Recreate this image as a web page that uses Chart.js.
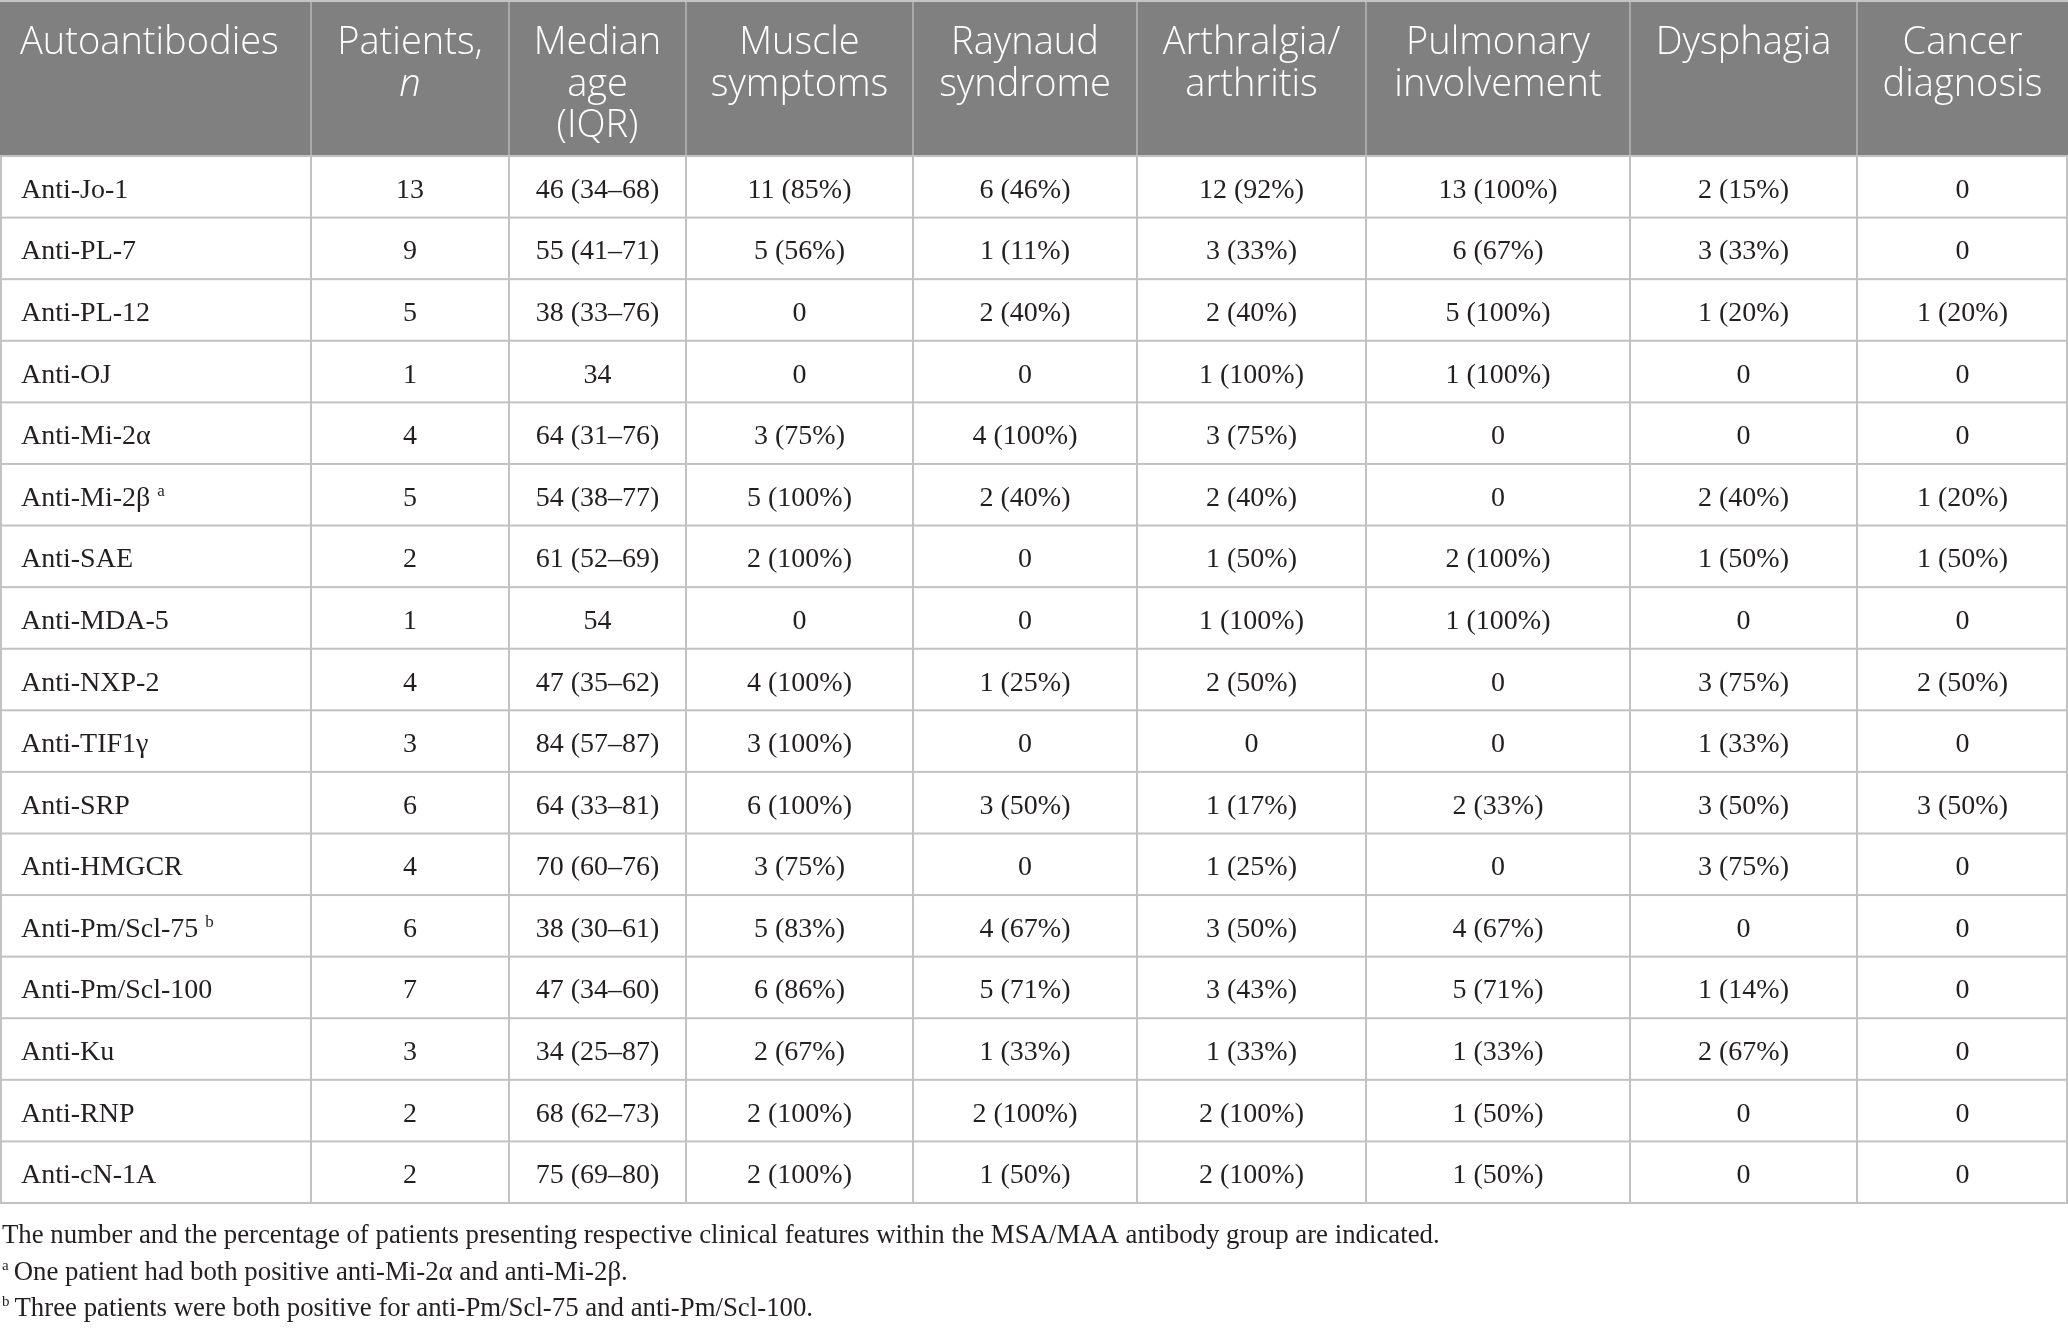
<!DOCTYPE html>
<html>
<head>
<meta charset="utf-8">
<script src="https://cdn.jsdelivr.net/npm/chart.js@4.4.1/dist/chart.umd.min.js"></script>
<style>
  html, body { margin: 0; padding: 0; background: #fff; }
  #wrap { width: 2068px; height: 1329px; position: relative; }
</style>
</head>
<body>
<div id="wrap"><canvas id="table"></canvas></div>
<script>
// table content
const antibodies = ["Anti-Jo-1", "Anti-PL-7", "Anti-PL-12", "Anti-OJ", "Anti-Mi-2α", "Anti-Mi-2β", "Anti-SAE", "Anti-MDA-5", "Anti-NXP-2", "Anti-TIF1γ", "Anti-SRP", "Anti-HMGCR", "Anti-Pm/Scl-75", "Anti-Pm/Scl-100", "Anti-Ku", "Anti-RNP", "Anti-cN-1A"];
const antibodyNotes = ["", "", "", "", "", "a", "", "", "", "", "", "", "b", "", "", "", ""];
const patients = ["13", "9", "5", "1", "4", "5", "2", "1", "4", "3", "6", "4", "6", "7", "3", "2", "2"];
const medianAge = ["46 (34–68)", "55 (41–71)", "38 (33–76)", "34", "64 (31–76)", "54 (38–77)", "61 (52–69)", "54", "47 (35–62)", "84 (57–87)", "64 (33–81)", "70 (60–76)", "38 (30–61)", "47 (34–60)", "34 (25–87)", "68 (62–73)", "75 (69–80)"];
const muscle = ["11 (85%)", "5 (56%)", "0", "0", "3 (75%)", "5 (100%)", "2 (100%)", "0", "4 (100%)", "3 (100%)", "6 (100%)", "3 (75%)", "5 (83%)", "6 (86%)", "2 (67%)", "2 (100%)", "2 (100%)"];
const raynaud = ["6 (46%)", "1 (11%)", "2 (40%)", "0", "4 (100%)", "2 (40%)", "0", "0", "1 (25%)", "0", "3 (50%)", "0", "4 (67%)", "5 (71%)", "1 (33%)", "2 (100%)", "1 (50%)"];
const arthralgia = ["12 (92%)", "3 (33%)", "2 (40%)", "1 (100%)", "3 (75%)", "2 (40%)", "1 (50%)", "1 (100%)", "2 (50%)", "0", "1 (17%)", "1 (25%)", "3 (50%)", "3 (43%)", "1 (33%)", "2 (100%)", "2 (100%)"];
const pulmonary = ["13 (100%)", "6 (67%)", "5 (100%)", "1 (100%)", "0", "0", "2 (100%)", "1 (100%)", "0", "0", "2 (33%)", "0", "4 (67%)", "5 (71%)", "1 (33%)", "1 (50%)", "1 (50%)"];
const dysphagia = ["2 (15%)", "3 (33%)", "1 (20%)", "0", "0", "2 (40%)", "1 (50%)", "0", "3 (75%)", "1 (33%)", "3 (50%)", "3 (75%)", "0", "1 (14%)", "2 (67%)", "0", "0"];
const cancer = ["0", "0", "1 (20%)", "0", "0", "1 (20%)", "1 (50%)", "0", "2 (50%)", "0", "3 (50%)", "0", "0", "0", "0", "0", "0"];

const headers = [
  ["Autoantibodies"],
  ["Patients,", "n"],
  ["Median", "age", "(IQR)"],
  ["Muscle", "symptoms"],
  ["Raynaud", "syndrome"],
  ["Arthralgia/", "arthritis"],
  ["Pulmonary", "involvement"],
  ["Dysphagia"],
  ["Cancer", "diagnosis"]
];
const footnotes = [
  ["", "The number and the percentage of patients presenting respective clinical features within the MSA/MAA antibody group are indicated."],
  ["a", "One patient had both positive anti-Mi-2α and anti-Mi-2β."],
  ["b", "Three patients were both positive for anti-Pm/Scl-75 and anti-Pm/Scl-100."]
];

// layout (not data)
const colEdges = [0, 311, 509, 686, 913, 1137, 1366, 1630, 1857, 2068];
const HEADER_H = 156;
const BOTTOM_PAD = 126;
const columns = [antibodies, patients, medianAge, muscle, raynaud, arthralgia, pulmonary, dysphagia, cancer];

const tablePlugin = {
  id: "tablePlugin",
  afterDatasetsDraw(chart) {
    const ctx = chart.ctx;
    const xs = chart.scales.x;
    const ys = chart.scales.y;
    const left = xs.getPixelForValue(colEdges[0]);
    const right = xs.getPixelForValue(colEdges[colEdges.length - 1]);
    const band = ys.getPixelForValue(1) - ys.getPixelForValue(0);
    const top = ys.getPixelForValue(0) - band / 2;
    const bottom = ys.getPixelForValue(antibodies.length - 1) + band / 2;

    ctx.save();
    // header block
    ctx.fillStyle = "#808080";
    ctx.fillRect(left, 2, right - left, top - 2);
    ctx.fillStyle = "#c4c4c4";
    ctx.fillRect(left, 0, right - left, 2);

    // header separators
    ctx.fillStyle = "#a9a9a9";
    for (let c = 1; c < colEdges.length - 1; c++) {
      const x = xs.getPixelForValue(colEdges[c]);
      ctx.fillRect(x - 1, 2, 2, top - 2);
    }

    // body grid
    ctx.fillStyle = "#c2c2c2";
    for (let r = 0; r <= antibodies.length; r++) {
      const y = ys.getPixelForValue(r) - band / 2;
      ctx.fillRect(left, y - 1, right - left, 2);
    }
    for (let c = 0; c < colEdges.length; c++) {
      let x = xs.getPixelForValue(colEdges[c]);
      if (c === 0) x = left + 1;
      if (c === colEdges.length - 1) x = right - 1;
      ctx.fillRect(x - 1, top, 2, bottom - top);
    }

    // header text
    ctx.fillStyle = "#ffffff";
    ctx.textBaseline = "alphabetic";
    headers.forEach((lines, c) => {
      const cx = xs.getPixelForValue((colEdges[c] + colEdges[c + 1]) / 2);
      lines.forEach((t, i) => {
        const italic = (c === 1 && i === 1);
        ctx.font = (italic ? "italic " : "") + "300 38px 'Open Sans'";
        const y = 54 + i * 41.5;
        if (c === 0) {
          ctx.textAlign = "left";
          ctx.fillText(t, xs.getPixelForValue(colEdges[0]) + 20, y);
        } else {
          ctx.textAlign = "center";
          ctx.fillText(t, cx, y);
        }
      });
    });

    // body text
    ctx.fillStyle = "#231f20";
    columns.forEach((col, c) => {
      const cx = xs.getPixelForValue((colEdges[c] + colEdges[c + 1]) / 2);
      col.forEach((t, r) => {
        const y = ys.getPixelForValue(r) + 11;
        ctx.font = "28px 'Liberation Serif'";
        if (c === 0) {
          const x0 = xs.getPixelForValue(colEdges[0]) + 21;
          ctx.textAlign = "left";
          ctx.fillText(t, x0, y);
          if (antibodyNotes[r]) {
            const w = ctx.measureText(t + " ").width;
            ctx.font = "17px 'Liberation Serif'";
            ctx.fillText(antibodyNotes[r], x0 + w, y - 10);
          }
        } else {
          ctx.textAlign = "center";
          ctx.fillText(t, cx, y);
        }
      });
    });

    // footnotes
    ctx.textAlign = "left";
    footnotes.forEach(([mark, text], i) => {
      const y = bottom + 40 + i * 36.5;
      let x = left + 2;
      if (mark) {
        ctx.font = "15px 'Liberation Serif'";
        ctx.fillText(mark, x, y - 10);
        x += ctx.measureText(mark).width + 5;
      }
      ctx.font = "26.8px 'Liberation Serif'";
      ctx.fillText(text, x, y);
    });
    ctx.restore();
  }
};

new Chart(document.getElementById("table"), {
  type: "bar",
  data: {
    labels: antibodies,
    datasets: [{
      data: antibodies.map(() => [colEdges[0], colEdges[colEdges.length - 1]]),
      backgroundColor: "#ffffff",
      borderWidth: 0,
      barPercentage: 1,
      categoryPercentage: 1
    }]
  },
  options: {
    indexAxis: "y",
    responsive: true,
    maintainAspectRatio: false,
    animation: false,
    devicePixelRatio: 1,
    layout: { padding: { top: HEADER_H, bottom: BOTTOM_PAD, left: 0, right: 0 } },
    plugins: { legend: { display: false }, tooltip: { enabled: false } },
    scales: {
      x: { type: "linear", min: colEdges[0], max: colEdges[colEdges.length - 1], display: false },
      y: { type: "category", offset: true, display: false }
    }
  },
  plugins: [tablePlugin]
});
</script>
</body>
</html>
